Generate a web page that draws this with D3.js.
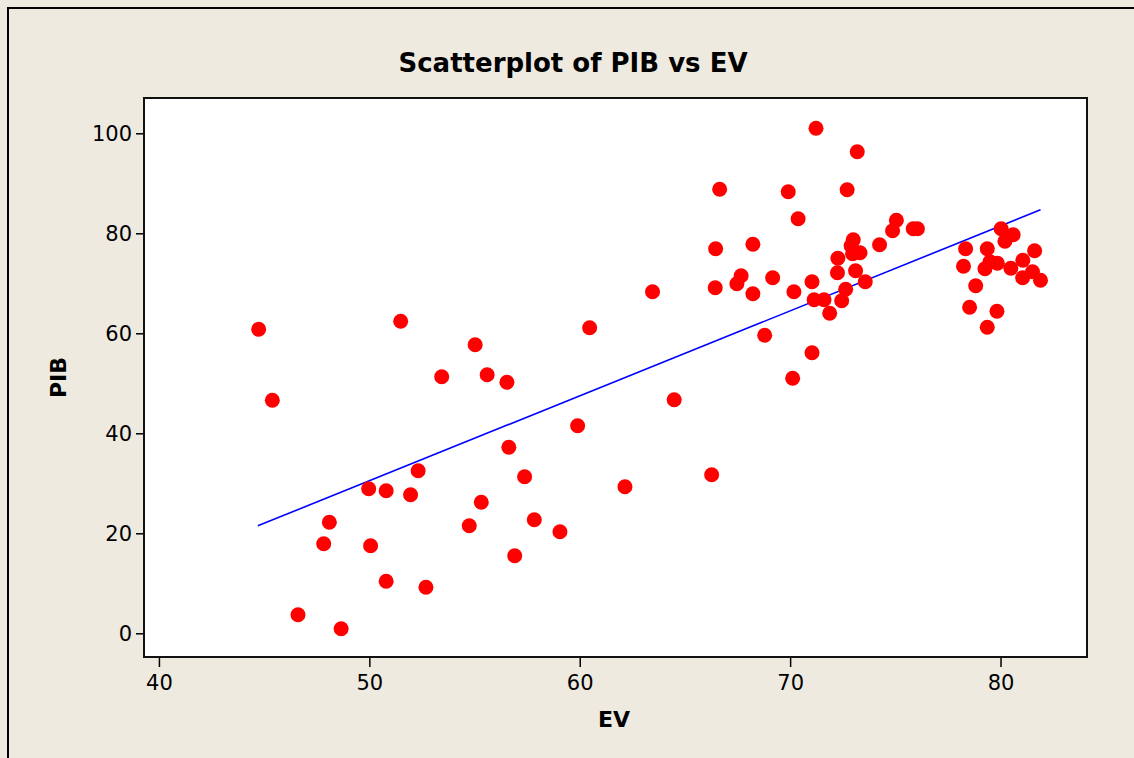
<!DOCTYPE html>
<html>
<head>
<meta charset="utf-8">
<script src="https://cdn.jsdelivr.net/npm/d3@7"></script>
<style>
  html, body { margin: 0; padding: 0; background: #EEEAE0; }
  svg { display: block; }
  text { font-family: "DejaVu Sans", Verdana, sans-serif; fill: #000; }
</style>
</head>
<body>
<svg id="chart" width="1134" height="758"></svg>
<script>
// ---- data ----
const ev = [44.74, 45.39, 46.61, 47.83, 48.10, 48.66, 49.97, 50.06, 50.80, 50.80,
            51.49, 51.96, 52.32, 52.69, 53.44, 54.75, 55.03, 55.32, 55.60, 56.54,
            56.63, 56.91, 57.38, 57.84, 59.06, 59.90, 60.47, 62.15, 63.46, 64.49,
            66.27, 66.44, 66.46, 66.65, 67.47, 67.67, 68.23, 68.23, 68.79, 69.17,
            69.91, 70.12, 70.18, 70.38, 71.04, 71.04, 71.14, 71.23, 71.61, 71.88,
            72.25, 72.27, 72.45, 72.64, 72.71, 72.90, 72.97, 73.00, 73.11, 73.19,
            73.32, 73.57, 74.25, 74.87, 75.05, 75.85, 76.05, 78.24, 78.34, 78.53,
            78.82, 79.26, 79.37, 79.37, 79.50, 79.83, 79.85, 80.03, 80.21, 80.49,
            80.60, 81.05, 81.06, 81.52, 81.62, 81.90];
const pib = [60.8, 46.6, 3.7, 17.9, 22.2, 0.9, 28.9, 17.5, 28.5, 10.4,
             62.4, 27.7, 32.5, 9.2, 51.3, 21.5, 57.7, 26.2, 51.7, 50.2,
             37.2, 15.5, 31.3, 22.7, 20.3, 41.5, 61.1, 29.3, 68.3, 46.7,
             31.7, 69.1, 76.9, 88.8, 69.9, 71.5, 77.8, 67.9, 59.6, 71.1,
             88.3, 51.0, 68.3, 82.9, 70.3, 56.1, 66.7, 101.0, 66.7, 64.0,
             72.1, 75.0, 66.5, 68.8, 88.7, 77.5, 75.9, 78.7, 72.5, 96.3,
             76.1, 70.3, 77.7, 80.5, 82.6, 80.9, 80.9, 73.4, 76.9, 65.2,
             69.5, 72.9, 76.9, 61.2, 74.3, 64.4, 74.0, 80.9, 78.4, 73.0,
             79.7, 71.1, 74.6, 72.3, 76.5, 70.6];
const fitEV  = [44.7, 81.9];
const fitPIB = [21.5, 84.7];
const xTicks = [40, 50, 60, 70, 80];
const yTicks = [0, 20, 40, 60, 80, 100];
const titleText = "Scatterplot of PIB vs EV";
const xLabel = "EV";
const yLabel = "PIB";

// ---- layout ----
const svg = d3.select("#chart");
const L = 144, R = 1087, T = 98, B = 657;
const x = d3.scaleLinear().domain([39.29, 84.11]).range([L, R]);
const y = d3.scaleLinear().domain([-4.74, 107.06]).range([B, T]);

// outer frame (top and left edges)
svg.append("path")
  .attr("d", "M8,758 L8,8 L1134,8")
  .attr("fill", "none").attr("stroke", "#000").attr("stroke-width", 2);

// plot area
svg.append("rect")
  .attr("x", L).attr("y", T).attr("width", R - L).attr("height", B - T)
  .attr("fill", "#fff");

// axes
const xAxis = d3.axisBottom(x).tickValues(xTicks).tickSize(10).tickPadding(8)
  .tickFormat(d3.format("d"));
const gx = svg.append("g").attr("transform", `translate(0,${B})`).call(xAxis);
gx.select(".domain").remove();
gx.selectAll("line").attr("stroke", "#000").attr("stroke-width", 1.5);
gx.selectAll("text").attr("font-size", 21).attr("font-family", "DejaVu Sans");

const yAxis = d3.axisLeft(y).tickValues(yTicks).tickSize(8).tickPadding(4)
  .tickFormat(d3.format("d"));
const gy = svg.append("g").attr("transform", `translate(${L},0)`).call(yAxis);
gy.select(".domain").remove();
gy.selectAll("line").attr("stroke", "#000").attr("stroke-width", 1.5);
gy.selectAll("text").attr("font-size", 21).attr("font-family", "DejaVu Sans");

// fit line
const line = d3.line().x(d => x(d[0])).y(d => y(d[1]));
svg.append("path")
  .datum(fitEV.map((e, i) => [e, fitPIB[i]]))
  .attr("d", line)
  .attr("fill", "none").attr("stroke", "#0000FF").attr("stroke-width", 1.6);

// points
svg.append("g").selectAll("circle")
  .data(ev.map((e, i) => ({ e, p: pib[i] })))
  .join("circle")
  .attr("cx", d => x(d.e)).attr("cy", d => y(d.p)).attr("r", 7.5)
  .attr("fill", "#FF0000");

// plot frame
svg.append("rect")
  .attr("x", L).attr("y", T).attr("width", R - L).attr("height", B - T)
  .attr("fill", "none").attr("stroke", "#111").attr("stroke-width", 2);

// titles
svg.append("text").attr("x", 573).attr("y", 72).attr("text-anchor", "middle")
  .attr("font-size", 26).attr("font-weight", "bold").text(titleText);
svg.append("text").attr("x", 614).attr("y", 727).attr("text-anchor", "middle")
  .attr("font-size", 22).attr("font-weight", "bold").text(xLabel);
svg.append("text").attr("transform", `translate(66,${(T + B) / 2}) rotate(-90)`)
  .attr("text-anchor", "middle")
  .attr("font-size", 22).attr("font-weight", "bold").text(yLabel);
</script>
</body>
</html>
